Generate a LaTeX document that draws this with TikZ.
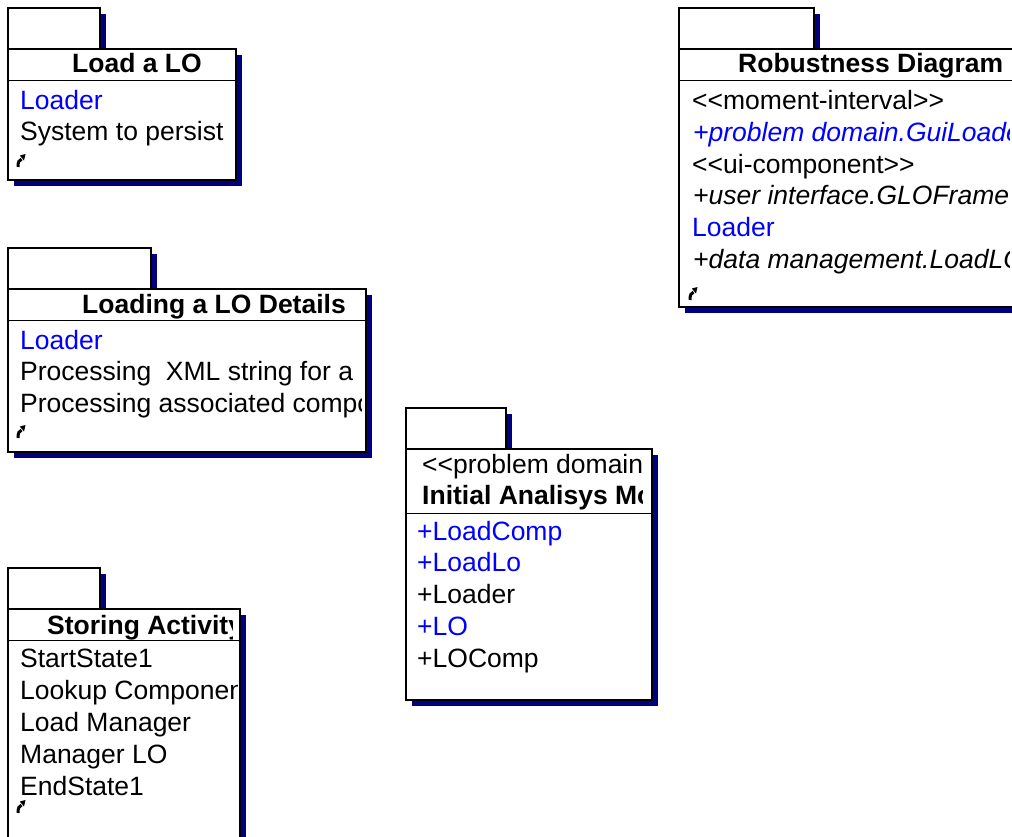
\documentclass[tikz,border=0pt]{standalone}
\usepackage{fontspec}
\setmainfont{Liberation Sans}[Ligatures=TeXOff]
\definecolor{pkgshadow}{RGB}{0,0,128}
\definecolor{linkblue}{RGB}{0,0,255}

% package outline: #1 left, #2 tab right, #3 top, #4 separator y, #5 body right, #6 body bottom
\newcommand\pkgshape[6]{%
  \fill[pkgshadow] (#1+6,#3+6) rectangle (#2+6,#3+47);
  \fill[pkgshadow] (#1+6,#3+47) rectangle (#5+6,#6+6);
  \draw[frame box] (#1,#3) rectangle (#2,#3+41);
  \draw[frame box] (#1,#3+41) rectangle (#5,#6);
  \draw[sep line] (#1,#4) -- (#5,#4);
}

\tikzset{
  frame box/.style={fill=white, draw=black, line width=1.5pt},
  sep line/.style={draw=black, line width=1pt},
  txt/.style={anchor=base west, inner sep=0pt, font=\fontsize{26.5}{32}\selectfont},
  ttl/.style={txt, font=\fontsize{26.5}{32}\selectfont\bfseries},
  ital/.style={txt, font=\fontsize{26.5}{32}\selectfont\itshape},
  hl/.style={text=linkblue},
  bentarrow/.pic={
    \draw[line width=3pt] (2,0) .. controls (2,-5) and (3,-7) .. (5.5,-8);
    \fill (3.8,-11.5) -- (9.5,-13) -- (8,-6.5) -- cycle;
  }
}

\begin{document}
\begin{tikzpicture}[x=1pt,y=-1pt]
\useasboundingbox (0,0) rectangle (1012,836);
\clip (0,0) rectangle (1012,836);

% ---- Load a LO ----
\pkgshape{8}{100}{8}{80}{236}{180}
\node[ttl] (t1) at (72,72) {Load a LO};
\node[txt,hl] (p1a) at (20,109) {Loader};
\node[txt] (p1b) at (20,140) {System to persist};
\pic at (16,167) {bentarrow};

% ---- Loading a LO Details ----
\pkgshape{8}{151}{248}{320}{366}{452}
\begin{scope}
  \clip (8,289) rectangle (361.5,452);
  \node[ttl] (t2) at (82,313) {Loading a LO Details};
  \node[txt,hl] (p2a) at (20,349) {Loader};
  \node[txt] (p2b) at (20,380) {Processing\ \ XML string for a};
  \node[txt] (p2c) at (20,412) {Processing associated components};
\end{scope}
\pic at (16,438) {bentarrow};

% ---- Storing Activity (runs past the lower edge) ----
\pkgshape{8}{100}{568}{640}{240}{839}
\begin{scope}
  \clip (8,609) rectangle (232,640);
  \node[ttl] (t3) at (47,634) {Storing Activity};
\end{scope}
\begin{scope}
  \clip (8,640) rectangle (237,836);
  \node[txt] (p3a) at (20,667) {StartState1};
  \node[txt] (p3b) at (20,699) {Lookup Component};
  \node[txt] (p3c) at (20,731) {Load Manager};
  \node[txt] (p3d) at (20,763) {Manager LO};
  \node[txt] (p3e) at (20,795) {EndState1};
\end{scope}
\pic at (16,813) {bentarrow};

% ---- Initial Analisys Model ----
\pkgshape{406}{506}{408}{513}{652}{700}
\begin{scope}
  \clip (406,449) rectangle (642.5,700);
  \node[txt] (s4) at (422,473) {<<problem domain>>};
  \node[ttl] (t4) at (422,504) {Initial Analisys Model};
  \node[txt,hl] (p4a) at (417,540) {+LoadComp};
  \node[txt,hl] (p4b) at (417,571.75) {+LoadLo};
  \node[txt] (p4c) at (417,603.5) {+Loader};
  \node[txt,hl] (p4d) at (417,635.25) {+LO};
  \node[txt] (p4e) at (417,667) {+LOComp};
\end{scope}

% ---- Robustness Diagram (runs past the right edge) ----
\pkgshape{679}{814}{8}{80}{1100}{307}
\node[ttl] (t5) at (738,72) {Robustness Diagram};
\begin{scope}
  \clip (679,80) rectangle (1009,307);
  \node[txt] (p5a) at (692,109.5) {<<moment-interval>>};
  \node[ital,hl] (p5b) at (693,141.25) {+problem domain.GuiLoader};
  \node[txt] (p5c) at (692,173) {<<ui-component>>};
  \node[ital] (p5d) at (693,204.75) {+user interface.GLOFrame};
  \node[txt,hl] (p5e) at (692,236.5) {Loader};
  \node[ital] (p5f) at (693,268.25) {+data management.LoadLO};
\end{scope}
\pic at (688,300) {bentarrow};
\end{tikzpicture}
\end{document}
